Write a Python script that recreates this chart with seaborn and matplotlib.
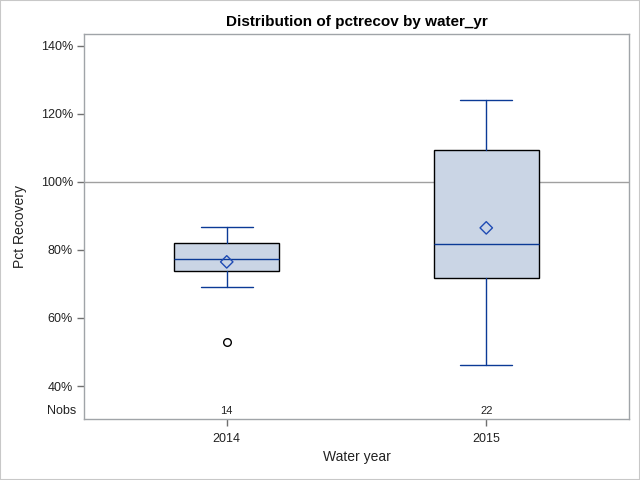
import matplotlib
matplotlib.use("Agg")
import matplotlib.pyplot as plt
import seaborn as sns
import pandas as pd
from matplotlib.patches import Rectangle
from matplotlib.ticker import FuncFormatter

# ---- data ----
years = ["2014", "2015"]
whisker_low = [69.1, 46.2]
q1 = [73.8, 71.8]
median = [77.4, 81.8]
q3 = [82.1, 109.4]
whisker_high = [86.8, 124.1]
means = [76.5, 86.5]
outliers = [[52.9], []]
nobs = [14, 22]
yticks = [40, 60, 80, 100, 120, 140]

sns.set_theme(style="white")
plt.rcParams['font.family'] = ['Liberation Sans', 'DejaVu Sans']

box_edge = "#000000"
box_fill = "#CAD5E5"
line_blue = "#0B3A96"
mean_blue = "#1F4BB4"
frame_gray = "#A0A4A8"
lw = 1.0

fig = plt.figure(figsize=(6.4, 4.8), dpi=100)
ax = fig.add_axes([84 / 640, 1 - 419 / 480, (629 - 84) / 640, (419 - 34) / 480])

stats = []
for i, y in enumerate(years):
    stats.append(dict(label=y, whislo=whisker_low[i], q1=q1[i], med=median[i],
                      q3=q3[i], whishi=whisker_high[i], mean=means[i],
                      fliers=outliers[i]))

positions = list(range(len(years)))
ax.axhline(100, color="#A0A0A0", lw=1, zorder=1)
ax.bxp(stats, positions=positions, widths=0.404, patch_artist=True,
       showmeans=False, showfliers=True,
       boxprops=dict(facecolor=box_fill, edgecolor=box_edge, lw=lw),
       medianprops=dict(color=line_blue, lw=lw),
       whiskerprops=dict(color=line_blue, lw=lw),
       capprops=dict(color=line_blue, lw=lw),
       capwidths=0.2,
       flierprops=dict(marker="o", markerfacecolor="none", markeredgecolor="black",
                       markersize=5.5, markeredgewidth=1.0),
       zorder=2)

mean_df = pd.DataFrame({"pos": positions, "mean": means})
sns.scatterplot(data=mean_df, x="pos", y="mean", marker="D", s=40,
                facecolor="none", edgecolor=mean_blue, linewidth=1.0, ax=ax, zorder=3)

ax.set_xlim(-0.55, 1.55)
ax.set_ylim(30.3, 143.5)
ax.set_yticks(yticks)
ax.yaxis.set_major_formatter(FuncFormatter(lambda v, p: f"{v:.0f}%"))
ax.set_xticks(positions)
ax.set_xticklabels(years)

for i, n in enumerate(nobs):
    ax.text(positions[i], 32.7, str(n), ha="center", va="center", fontsize=8, color="#222222")
ax.text(-0.015, 32.7, "Nobs", transform=ax.get_yaxis_transform(), ha="right",
        va="center", fontsize=9, color="#222222")

for s in ax.spines.values():
    s.set_color(frame_gray)
    s.set_linewidth(1)

ax.tick_params(axis="y", which="both", length=5, width=1, color="#707070",
               labelsize=9, labelcolor="#222222", direction="out", left=True, pad=3)
ax.tick_params(axis="x", which="both", length=5, width=1, color="#707070",
               labelsize=9, labelcolor="#222222", direction="out", bottom=True, pad=5)
ax.set_xlabel("Water year", fontsize=10, color="#222222", labelpad=4)
ax.set_ylabel("Pct Recovery", fontsize=10, color="#222222", labelpad=10)
ax.set_title("Distribution of pctrecov by water_yr", fontsize=11, fontweight="bold",
             color="#000000", pad=6)

fig.patches.append(Rectangle((0, 0), 1, 1, transform=fig.transFigure, fill=False,
                             edgecolor="#C8C8C8", lw=1.5))

fig.savefig("out.png", dpi=100)
